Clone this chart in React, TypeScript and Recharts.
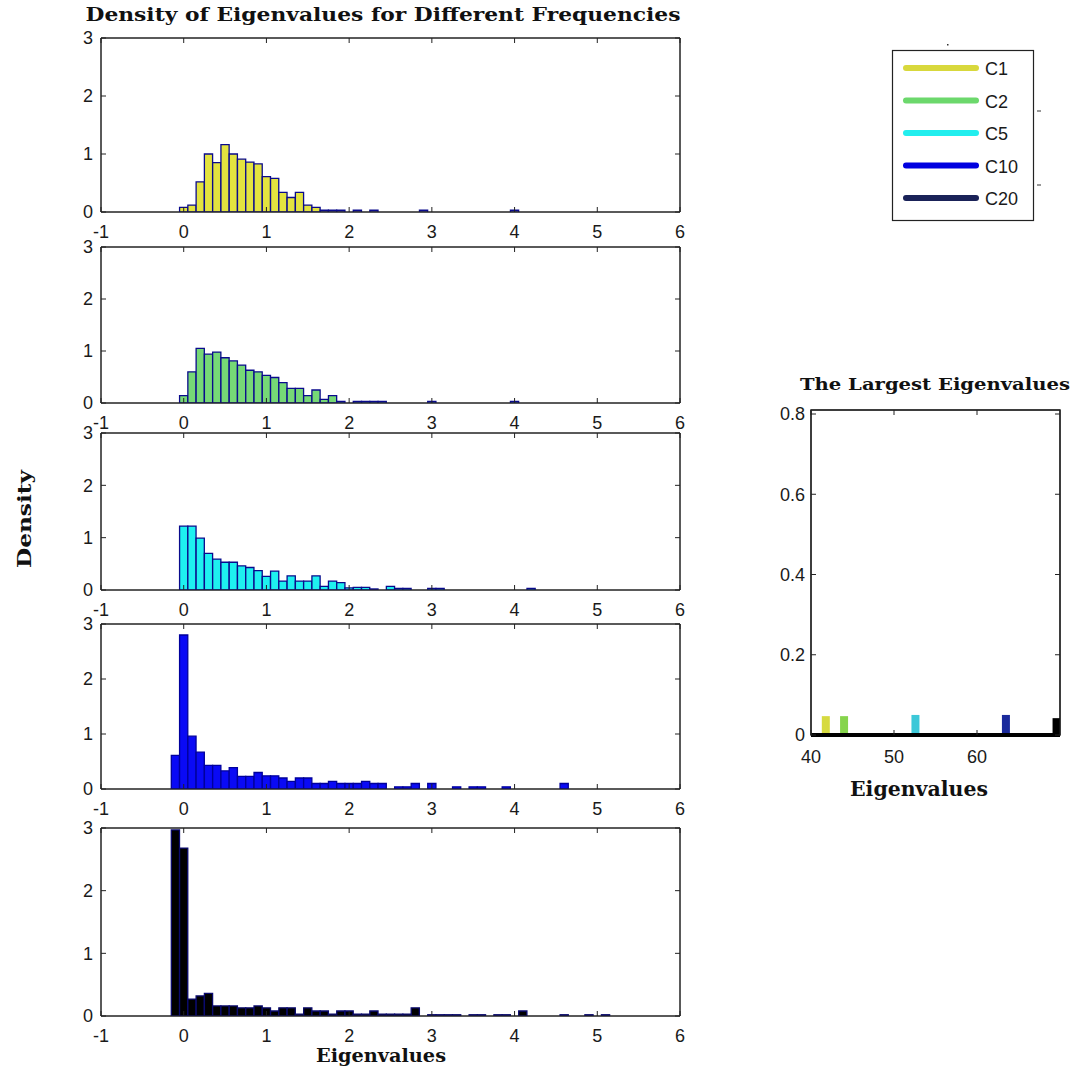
import { Bar, BarChart, Cell, ReferenceArea, XAxis, YAxis } from "recharts";

// histogram bins: [bin centre, density]
const c1Hist: [number, number][] = [
  [0.0, 0.08], [0.1, 0.12], [0.2, 0.52], [0.3, 1.0], [0.4, 0.85], [0.5, 1.16],
  [0.6, 1.0], [0.7, 0.91], [0.8, 0.86], [0.9, 0.83], [1.0, 0.61], [1.1, 0.58],
  [1.2, 0.34], [1.3, 0.25], [1.4, 0.34], [1.5, 0.12], [1.6, 0.08], [1.7, 0.03],
  [1.8, 0.03], [1.9, 0.03], [2.1, 0.03], [2.3, 0.03], [2.9, 0.03], [4.0, 0.03],
];

const c2Hist: [number, number][] = [
  [0.0, 0.14], [0.1, 0.6], [0.2, 1.05], [0.3, 0.94], [0.4, 0.98], [0.5, 0.87],
  [0.6, 0.81], [0.7, 0.73], [0.8, 0.63], [0.9, 0.6], [1.0, 0.53], [1.1, 0.49],
  [1.2, 0.39], [1.3, 0.28], [1.4, 0.28], [1.5, 0.14], [1.6, 0.25], [1.7, 0.07],
  [1.8, 0.14], [1.9, 0.03], [2.1, 0.03], [2.2, 0.03], [2.3, 0.03], [2.4, 0.03],
  [3.0, 0.03], [4.0, 0.03],
];

const c5Hist: [number, number][] = [
  [0.0, 1.22], [0.1, 1.22], [0.2, 0.99], [0.3, 0.7], [0.4, 0.59], [0.5, 0.53],
  [0.6, 0.53], [0.7, 0.46], [0.8, 0.43], [0.9, 0.37], [1.0, 0.26], [1.1, 0.36],
  [1.2, 0.17], [1.3, 0.27], [1.4, 0.17], [1.5, 0.17], [1.6, 0.27], [1.7, 0.07],
  [1.8, 0.17], [1.9, 0.14], [2.0, 0.04], [2.1, 0.05], [2.2, 0.05], [2.3, 0.02],
  [2.5, 0.07], [2.6, 0.03], [2.7, 0.03], [3.0, 0.03], [3.1, 0.03], [4.2, 0.03],
];

const c10Hist: [number, number][] = [
  [-0.1, 0.61], [0.0, 2.8], [0.1, 0.96], [0.2, 0.67], [0.3, 0.43], [0.4, 0.43],
  [0.5, 0.33], [0.6, 0.39], [0.7, 0.23], [0.8, 0.23], [0.9, 0.3], [1.0, 0.24],
  [1.1, 0.24], [1.2, 0.2], [1.3, 0.14], [1.4, 0.2], [1.5, 0.2], [1.6, 0.1],
  [1.7, 0.1], [1.8, 0.14], [1.9, 0.1], [2.0, 0.1], [2.1, 0.1], [2.2, 0.14],
  [2.3, 0.1], [2.4, 0.1], [2.6, 0.04], [2.7, 0.04], [2.8, 0.1], [3.0, 0.1],
  [3.3, 0.04], [3.5, 0.04], [3.6, 0.04], [3.9, 0.04], [4.6, 0.1],
];

const c20Hist: [number, number][] = [
  [-0.1, 2.97], [0.0, 2.68], [0.1, 0.27], [0.2, 0.32], [0.3, 0.36], [0.4, 0.16],
  [0.5, 0.16], [0.6, 0.16], [0.7, 0.13], [0.8, 0.13], [0.9, 0.16], [1.0, 0.13],
  [1.1, 0.08], [1.2, 0.13], [1.3, 0.13], [1.4, 0.03], [1.5, 0.13], [1.6, 0.08],
  [1.7, 0.08], [1.8, 0.03], [1.9, 0.08], [2.0, 0.08], [2.1, 0.03], [2.2, 0.03],
  [2.3, 0.08], [2.4, 0.03], [2.5, 0.03], [2.6, 0.03], [2.7, 0.03], [2.8, 0.13],
  [3.0, 0.02], [3.1, 0.02], [3.2, 0.02], [3.3, 0.02], [3.5, 0.02], [3.6, 0.02],
  [3.8, 0.02], [3.9, 0.02], [4.1, 0.08], [4.6, 0.02], [4.9, 0.02], [5.1, 0.02],
];

const histXTicks = [-1, 0, 1, 2, 3, 4, 5, 6];
const histYTicks = [0, 1, 2, 3];

const seriesNames = ["C1", "C2", "C5", "C10", "C20"];
const legendColors = ["#d8d83c", "#6cd86c", "#22eeee", "#0000e0", "#1a2258"];

const largestX = [41.8, 44.0, 52.6, 63.5, 69.6];
const largestY = [0.047, 0.047, 0.05, 0.05, 0.042];
const largestColors = ["#d6da40", "#86d44c", "#3cc8d8", "#1a2a9c", "#000000"];
const largestXTicks = [40, 50, 60];
const largestYTicks = [0, 0.2, 0.4, 0.6, 0.8];

const tickFont = {
  fill: "#1a1a1a",
  fontSize: 18,
  fontFamily: "'Liberation Sans', Arial, sans-serif",
};
const serif = "'DejaVu Serif', 'Liberation Serif', serif";
const axisStroke = "#222";
const blank = () => "";

// panel placement (plot area top/bottom in page px)
const panels = [
  { data: c1Hist, fill: "#e3e33f", stroke: "#0a0a8c", top: 38, bottom: 212 },
  { data: c2Hist, fill: "#76d876", stroke: "#0a0a8c", top: 247, bottom: 403 },
  { data: c5Hist, fill: "#1ef0f0", stroke: "#0a0a8c", top: 433, bottom: 590 },
  { data: c10Hist, fill: "#0a0af5", stroke: "#00009c", top: 624, bottom: 789 },
  { data: c20Hist, fill: "#000000", stroke: "#0a0a6e", top: 828, bottom: 1016 },
];

function HistPanel({
  data,
  fill,
  stroke,
  top,
  bottom,
}: {
  data: [number, number][];
  fill: string;
  stroke: string;
  top: number;
  bottom: number;
}) {
  const padTop = 11;
  const axisH = 40;
  const rows = data.map(([x, y]) => ({ x, y }));
  return (
    <div style={{ position: "absolute", left: 30, top: top - padTop - 1 }}>
      <BarChart
        width={670}
        height={bottom - top + padTop + 1 + axisH}
        data={rows}
        margin={{ top: padTop, right: 19, left: 0, bottom: 0 }}
        barGap={0}
        barCategoryGap={0}
      >
        <XAxis
          xAxisId="b"
          type="number"
          dataKey="x"
          domain={[-1, 6]}
          ticks={histXTicks}
          allowDataOverflow
          height={axisH}
          stroke={axisStroke}
          tickSize={-5}
          tickMargin={18}
          tick={tickFont}
        />
        <XAxis
          xAxisId="t"
          orientation="top"
          type="number"
          dataKey="x"
          domain={[-1, 6]}
          ticks={histXTicks}
          allowDataOverflow
          height={1}
          stroke={axisStroke}
          tickSize={-5}
          tickFormatter={blank}
        />
        <YAxis
          yAxisId="l"
          type="number"
          domain={[0, 3]}
          ticks={histYTicks}
          allowDataOverflow
          width={71}
          stroke={axisStroke}
          tickSize={-5}
          tickMargin={13}
          tick={tickFont}
        />
        <YAxis
          yAxisId="r"
          orientation="right"
          type="number"
          domain={[0, 3]}
          ticks={histYTicks}
          allowDataOverflow
          width={1}
          stroke={axisStroke}
          tickSize={-5}
          tickFormatter={blank}
        />
        <ReferenceArea
          xAxisId="b"
          yAxisId="l"
          x1={-1}
          x2={6}
          y1={0}
          y2={3}
          fill="none"
          stroke={axisStroke}
          ifOverflow="visible"
        />
        <Bar
          xAxisId="b"
          yAxisId="l"
          dataKey="y"
          fill={fill}
          stroke={stroke}
          strokeWidth={1.3}
          barSize={8.2}
          isAnimationActive={false}
        />
      </BarChart>
    </div>
  );
}

function LargestPanel() {
  const rows = largestX.map((x, i) => ({ x, y: largestY[i] }));
  return (
    <div style={{ position: "absolute", left: 740, top: 399 }}>
      <BarChart
        width={341}
        height={371}
        data={rows}
        margin={{ top: 10, right: 20, left: 0, bottom: 0 }}
      >
        <XAxis
          xAxisId="b"
          type="number"
          dataKey="x"
          domain={[40, 70]}
          ticks={largestXTicks}
          allowDataOverflow
          height={35}
          axisLine={{ stroke: "#000", strokeWidth: 4 }}
          stroke={axisStroke}
          tickSize={-5}
          tickMargin={20}
          tick={tickFont}
        />
        <XAxis
          xAxisId="t"
          orientation="top"
          type="number"
          dataKey="x"
          domain={[40, 70]}
          ticks={largestXTicks}
          allowDataOverflow
          height={1}
          stroke={axisStroke}
          tickSize={-5}
          tickFormatter={blank}
        />
        <YAxis
          yAxisId="l"
          type="number"
          domain={[0, 0.81]}
          ticks={largestYTicks}
          allowDataOverflow
          width={71}
          stroke={axisStroke}
          tickSize={-5}
          tickMargin={11}
          tick={tickFont}
        />
        <YAxis
          yAxisId="r"
          orientation="right"
          type="number"
          domain={[0, 0.81]}
          ticks={largestYTicks}
          allowDataOverflow
          width={1}
          stroke={axisStroke}
          tickSize={-5}
          tickFormatter={blank}
        />
        <ReferenceArea
          xAxisId="b"
          yAxisId="l"
          x1={40}
          x2={70}
          y1={0}
          y2={0.81}
          fill="none"
          stroke={axisStroke}
          strokeWidth={1.5}
          ifOverflow="visible"
        />
        <Bar
          xAxisId="b"
          yAxisId="l"
          dataKey="y"
          barSize={8}
          isAnimationActive={false}
        >
          {rows.map((_, i) => (
            <Cell key={i} fill={largestColors[i]} />
          ))}
        </Bar>
      </BarChart>
    </div>
  );
}

function Overlay() {
  return (
    <svg
      width={1090}
      height={1076}
      style={{ position: "absolute", left: 0, top: 0, pointerEvents: "none" }}
    >
      <text
        x={383}
        y={21}
        textAnchor="middle"
        fontFamily={serif}
        fontWeight="bold"
        fontSize={19}
        textLength={595}
        lengthAdjust="spacingAndGlyphs"
        fill="#111"
      >
        Density of Eigenvalues for Different Frequencies
      </text>
      <text
        x={31}
        y={519}
        transform="rotate(-90 31 519)"
        textAnchor="middle"
        fontFamily={serif}
        fontWeight="bold"
        fontSize={19}
        textLength={98}
        lengthAdjust="spacingAndGlyphs"
        fill="#111"
      >
        Density
      </text>
      <text
        x={381}
        y={1062}
        textAnchor="middle"
        fontFamily={serif}
        fontWeight="bold"
        fontSize={19}
        textLength={130}
        lengthAdjust="spacingAndGlyphs"
        fill="#111"
      >
        Eigenvalues
      </text>
      <text
        x={935}
        y={390}
        textAnchor="middle"
        fontFamily={serif}
        fontWeight="bold"
        fontSize={16}
        textLength={270}
        lengthAdjust="spacingAndGlyphs"
        fill="#111"
      >
        The Largest Eigenvalues
      </text>
      <text
        x={919}
        y={796}
        textAnchor="middle"
        fontFamily={serif}
        fontWeight="bold"
        fontSize={20}
        textLength={138}
        lengthAdjust="spacingAndGlyphs"
        fill="#111"
      >
        Eigenvalues
      </text>

      {/* legend */}
      <rect x={892.5} y={50.5} width={141} height={170} fill="#fff" stroke="#222" strokeWidth={1.2} />
      {seriesNames.map((name, i) => {
        const y = 68 + i * 32.5;
        return (
          <g key={name}>
            <line x1={906} x2={976} y1={y} y2={y} stroke={legendColors[i]} strokeWidth={6} strokeLinecap="round" />
            <text x={985} y={y + 7} fontFamily={tickFont.fontFamily} fontSize={18} fill="#1a1a1a">
              {name}
            </text>
          </g>
        );
      })}
      <line x1={1037} x2={1041} y1={111} y2={111} stroke="#333" />
      <line x1={1037} x2={1041} y1={185} y2={185} stroke="#333" />
      <rect x={947} y={44} width={1.5} height={1.5} fill="#333" />
    </svg>
  );
}

export default function App() {
  return (
    <div
      style={{
        position: "absolute",
        left: 0,
        top: 0,
        width: 1090,
        height: 1076,
        background: "#fff",
      }}
    >
      {panels.map((p, i) => (
        <HistPanel key={i} {...p} />
      ))}
      <LargestPanel />
      <Overlay />
    </div>
  );
}
